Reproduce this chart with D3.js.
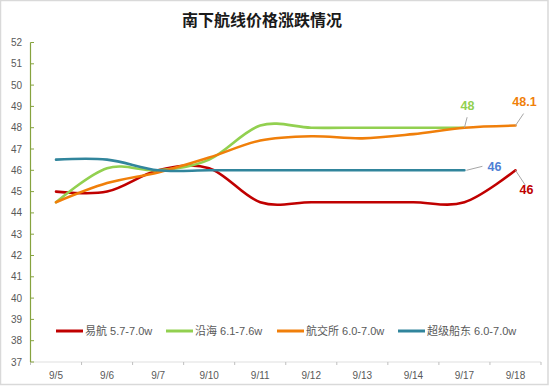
<!DOCTYPE html>
<html><head><meta charset="utf-8">
<script src="https://cdn.jsdelivr.net/npm/d3@7"></script>
<style>body{margin:0;background:#fff}svg{display:block}</style>
</head><body><svg id="c" width="552" height="386"></svg>
<script>
const categories = ["9/5","9/6","9/7","9/10","9/11","9/12","9/13","9/14","9/17","9/18"];
const yihang = [45,45,46,46.1,44.5,44.5,44.5,44.5,44.5,46];
const yanhai = [44.5,46.1,46,46.5,48.1,48,48,48,48,null];
const hangjiaosuo = [44.5,45.4,45.9,46.6,47.4,47.6,47.5,47.7,48,48.1];
const chaoji = [46.5,46.5,46,46,46,46,46,46,46,null];
const seriesNames = ["易航 5.7-7.0w","沿海 6.1-7.6w","航交所 6.0-7.0w","超级船东 6.0-7.0w"];
const yTicks = d3.range(37,53,1);

const colors = ["#c00000","#92d050","#f07f0a","#31859c"];
const labelColors = ["#c00000","#92d050","#f07f0a","#4f7fd4"];
const seriesData = [yihang,yanhai,hangjiaosuo,chaoji];

const svg = d3.select("#c");
const font = "'Liberation Sans','Noto Sans CJK SC',Arial,sans-serif";
svg.append("rect").attr("x",0.5).attr("y",0.5).attr("width",547.5).attr("height",384)
  .attr("fill","#fff").attr("stroke","#d9d9d9").attr("stroke-width",1.5);

const x = d3.scaleBand().domain(categories).range([30.5,541]);
const y = d3.scaleLinear().domain([37,52]).range([362,42.5]);
const cx = c => x(c) + x.bandwidth()/2;

svg.append("text").attr("x",262).attr("y",26).attr("text-anchor","middle")
  .attr("font-family","'Noto Sans CJK SC',sans-serif").attr("font-weight","bold")
  .attr("font-size",16).attr("fill","#1a1a1a").text("南下航线价格涨跌情况");

// x axis
const xg = svg.append("g").attr("transform","translate(0,362)");
xg.append("line").attr("x1",30.5).attr("x2",541).attr("stroke","#bfbfbf").attr("stroke-dasharray","1,1");
xg.selectAll("line.t").data(d3.range(categories.length+1)).join("line").attr("class","t")
  .attr("x1",i=>30.5+i*x.step()).attr("x2",i=>30.5+i*x.step()).attr("y1",0).attr("y2",3)
  .attr("stroke","#bfbfbf");
xg.selectAll("text").data(categories).join("text")
  .attr("x",d=>cx(d)).attr("y",17).attr("text-anchor","middle")
  .attr("font-family",font).attr("font-size",10).attr("fill","#595959").text(d=>d);

// y axis
const yg = svg.append("g");
yg.append("line").attr("x1",30.5).attr("x2",30.5).attr("y1",y(52)).attr("y2",y(37)).attr("stroke","#86a33f").attr("stroke-width",1.2);
yg.selectAll("line.t").data(yTicks).join("line").attr("class","t")
  .attr("x1",30.5).attr("x2",34).attr("y1",d=>y(d)).attr("y2",d=>y(d)).attr("stroke","#86a33f");
yg.selectAll("text").data(yTicks).join("text")
  .attr("x",22).attr("y",d=>y(d)+3.5).attr("text-anchor","end")
  .attr("font-family",font).attr("font-size",10).attr("fill","#595959").text(d=>d);

// lines
const line = d3.line().defined(d=>d.v!=null).x(d=>cx(d.c)).y(d=>y(d.v)).curve(d3.curveCatmullRom.alpha(0));
seriesData.forEach((arr,i)=>{
  const pts = arr.map((v,j)=>({c:categories[j],v}));
  svg.append("path").attr("d",line(pts.filter(p=>p.v!=null))).attr("fill","none")
    .attr("stroke",colors[i]).attr("stroke-width",2.6).attr("stroke-linecap","round");
});

// end labels
const lastIdx = arr => { let k=arr.length-1; while(arr[k]==null) k--; return k; };
const labelOff = [[11,20,11,12],[3,-14,3,-22],[9,-16,9,-24],[18,-4,30,-4]];
seriesData.forEach((arr,i)=>{
  const k = lastIdx(arr), px = cx(categories[k]), py = y(arr[k]);
  const o = labelOff[i];
  const l1 = i===3 ? [px+2,py,px+18,py-4] : [px,py,px+o[0]*0.9,py+o[1]*0.75];
  svg.append("line").attr("x1",l1[0]).attr("y1",l1[1]).attr("x2",l1[2]).attr("y2",l1[3])
    .attr("stroke","#a6a6a6").attr("stroke-width",1);
  svg.append("text").attr("x",px+o[2]).attr("y",py+o[3]+ (i===0?12:4.5)).attr("text-anchor",i===3?"middle":"middle")
    .attr("font-family",font).attr("font-weight","bold").attr("font-size",12.5)
    .attr("fill",labelColors[i]).text(arr[k]);
});

// legend
const legX = [56,166,277,398];
const lg = svg.append("g");
seriesNames.forEach((n,i)=>{
  lg.append("line").attr("x1",legX[i]).attr("x2",legX[i]+27).attr("y1",331).attr("y2",331)
    .attr("stroke",colors[i]).attr("stroke-width",3);
  lg.append("text").attr("x",legX[i]+29).attr("y",335).attr("font-family",font)
    .attr("font-size",11).attr("fill","#595959").text(n);
});
</script></body></html>
